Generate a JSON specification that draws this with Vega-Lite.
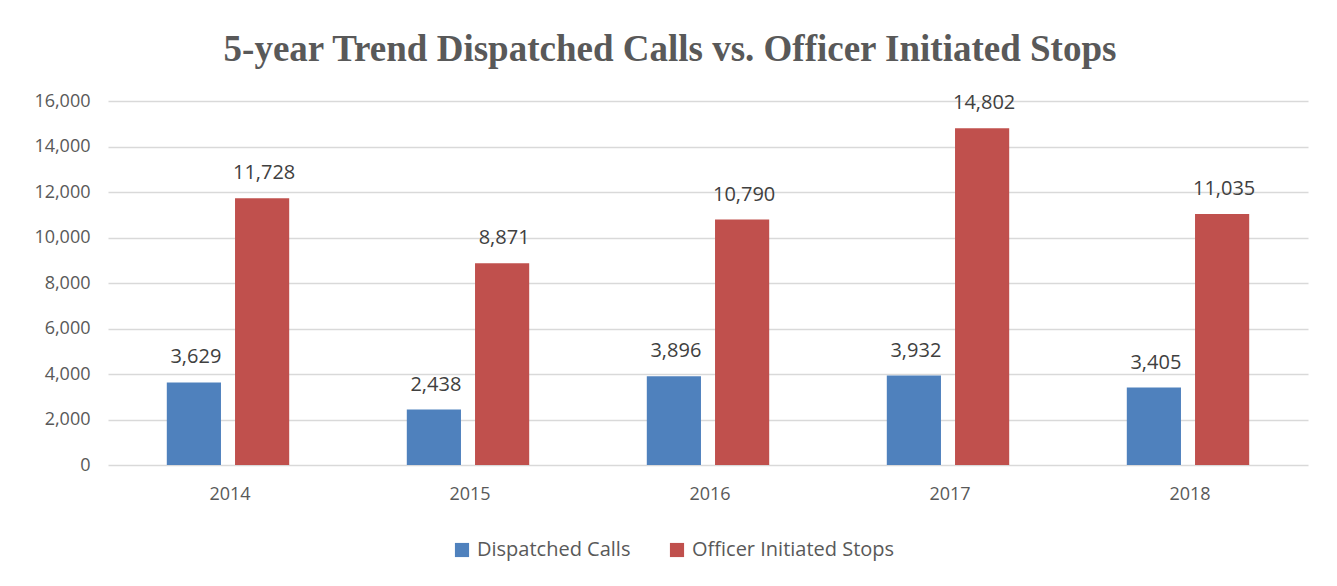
{
  "$schema": "https://vega.github.io/schema/vega-lite/v6.json",
  "width": 1200,
  "height": 364,
  "autosize": {"type": "none"},
  "padding": {"left": 108, "top": 101, "right": 29, "bottom": 121},
  "background": "white",
  "title": {
    "text": "5-year Trend Dispatched Calls vs. Officer Initiated Stops",
    "font": "Liberation Serif",
    "fontSize": 37,
    "fontWeight": "bold",
    "color": "#595959",
    "anchor": "middle",
    "frame": "group",
    "dx": -38,
    "offset": 23
  },
  "data": {
    "values": [
      {"year": "2014", "series": "Dispatched Calls", "value": 3629},
      {"year": "2014", "series": "Officer Initiated Stops", "value": 11728},
      {"year": "2015", "series": "Dispatched Calls", "value": 2438},
      {"year": "2015", "series": "Officer Initiated Stops", "value": 8871},
      {"year": "2016", "series": "Dispatched Calls", "value": 3896},
      {"year": "2016", "series": "Officer Initiated Stops", "value": 10790},
      {"year": "2017", "series": "Dispatched Calls", "value": 3932},
      {"year": "2017", "series": "Officer Initiated Stops", "value": 14802},
      {"year": "2018", "series": "Dispatched Calls", "value": 3405},
      {"year": "2018", "series": "Officer Initiated Stops", "value": 11035}
    ]
  },
  "encoding": {
    "x": {
      "field": "year", "type": "nominal",
      "scale": {"paddingInner": 0.49, "paddingOuter": 0.245},
      "axis": {"title": null, "labelAngle": 0, "domain": false, "ticks": false, "labelPadding": 20, "labelFontSize": 18, "labelColor": "#595959", "labelFont": "Open Sans", "labelOffset": 2}
    },
    "xOffset": {"field": "series", "type": "nominal", "scale": {"paddingInner": 0.206, "paddingOuter": 0}},
    "y": {
      "field": "value", "type": "quantitative",
      "scale": {"domain": [0, 16000]},
      "axis": {"title": null, "values": [0,2000,4000,6000,8000,10000,12000,14000,16000], "format": ",.0f", "labelOverlap": false, "domain": false, "ticks": false, "labelPadding": 18, "labelFontSize": 18, "labelColor": "#595959", "labelFont": "Open Sans", "gridColor": "#d9d9d9", "gridWidth": 1.5}
    }
  },
  "layer": [
    {
      "mark": {"type": "bar", "stroke": null, "xOffset": 2},
      "encoding": {
        "color": {
          "field": "series", "type": "nominal",
          "scale": {"domain": ["Dispatched Calls", "Officer Initiated Stops"], "range": ["#4F81BD", "#C0504D"]},
          "legend": {"title": null, "orient": "none", "legendX": 344, "legendY": 439, "direction": "horizontal", "symbolType": "square", "symbolSize": 200, "symbolStrokeWidth": 0, "symbolOpacity": 1, "labelFontSize": 20, "labelLimit": 400, "labelColor": "#595959", "labelFont": "Open Sans", "columnPadding": 36, "labelOffset": 5}
        }
      }
    },
    {
      "mark": {"type": "text", "baseline": "middle", "dy": -25, "dx": 2, "fontSize": 20, "font": "Open Sans", "color": "#404040"},
      "encoding": {"text": {"field": "value", "type": "quantitative", "format": ","}}
    }
  ],
  "config": {"view": {"stroke": null}}
}
